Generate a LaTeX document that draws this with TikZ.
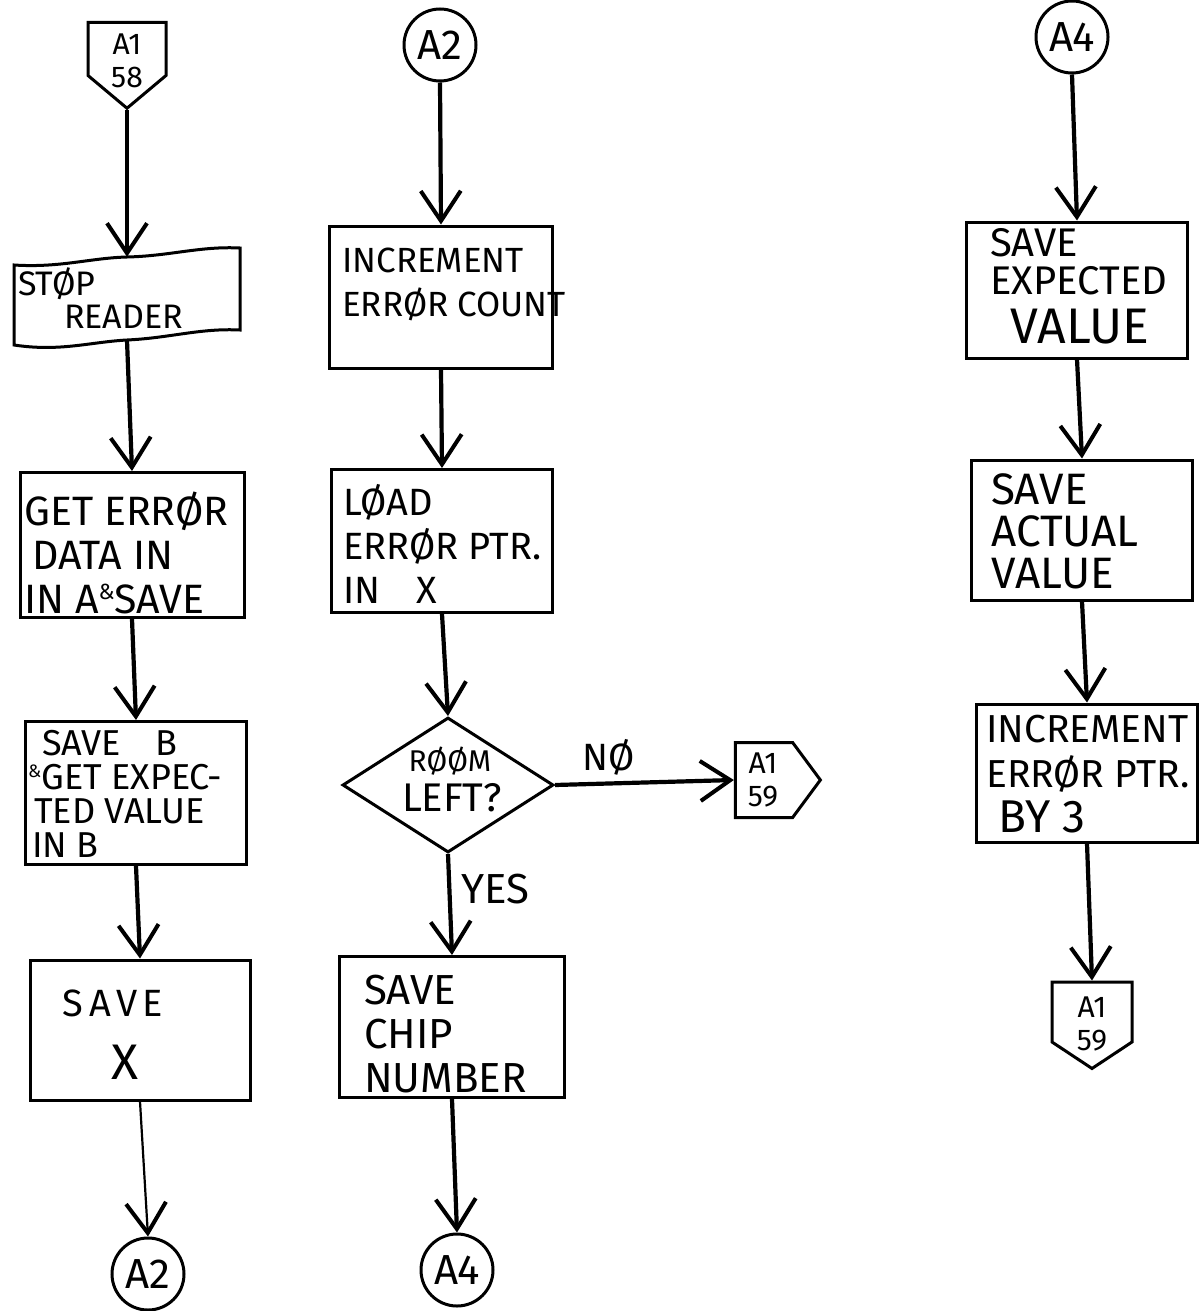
\documentclass[tikz,border=0pt]{standalone}
\usepackage{fontspec}
\setmainfont{Fira Sans}
\usetikzlibrary{arrows.meta,shapes.geometric,shapes.symbols}
\begin{document}
\begin{tikzpicture}[x=1pt,y=-1pt,
  box/.style={draw, line width=3pt, inner sep=0pt},
  circ/.style={draw, circle, line width=3pt, minimum size=72pt, inner sep=0pt, font=\fontsize{42}{42}\selectfont},
  offpage/.style={draw, signal, line width=3pt, inner sep=0pt},
  arr/.style={line width=4.2pt, -{Straight Barb[length=30pt,width=40pt,line width=4pt]}},
  txt/.style={inner sep=0pt, anchor=west, align=left, font=\fontsize{40}{44}\selectfont},
  small/.style={inner sep=0pt, align=center, font=\fontsize{30}{33}\selectfont}]
\useasboundingbox (0,0) rectangle (1201,1311);
\fill[white] (0,0) rectangle (1201,1311);

% ---------- column 1 ----------
\node[offpage, signal to=south, signal pointer angle=100, minimum width=78pt, minimum height=53pt] (o58) at (127,49) {};
\node[small] (o58t) at (127,61) {A1\\58};
\node[minimum width=226pt, minimum height=83pt, inner sep=0pt] (stop) at (127,298.5) {};
\draw[line width=3pt] (14,265) .. controls (60,268) and (90,258) .. (127,257)
  .. controls (170,256) and (200,246) .. (240,248) -- (240,330)
  .. controls (200,328) and (170,338) .. (127,340)
  .. controls (90,342) and (60,352) .. (14,345) -- cycle;
\node[txt, font=\fontsize{34}{33}\selectfont] (stopt) at (18,298) {STØP\\\hspace{46pt}READER};
\node[box, minimum width=224pt, minimum height=145pt] (geterr) at (132,545) {};
\node[txt, font=\fontsize{41}{44}\selectfont] (gettxt) at (24,553) {GET ERRØR\\\hspace{8pt}DATA IN\\IN A{\fontsize{22}{22}\selectfont\raisebox{14pt}{\&}}SAVE};
\node[box, minimum width=221pt, minimum height=143pt] (saveb) at (136,793) {};
\node[txt, font=\fontsize{36}{34}\selectfont] (savebt) at (28,794) {\hspace{14pt}SAVE\hspace{34pt}B\\{\fontsize{18}{18}\selectfont\raisebox{12pt}{\&}}GET EXPEC-\\\hspace{6pt}TED VALUE\\\hspace{4pt}IN B};
\node[box, minimum width=220pt, minimum height=140pt] (savex) at (140,1030) {};
\node[inner sep=0pt, font=\fontsize{38}{38}\selectfont\addfontfeature{LetterSpace=15}] (savext) at (113,1003) {SAVE};
\node[inner sep=0pt, font=\fontsize{50}{50}\selectfont] (xt) at (125,1062) {X};
\node[circ] (c2bot) at (148,1274) {A2};

\draw[arr] (o58.south) -- (stop.north);
\draw[arr] (stop.south) -- (geterr.north);
\draw[arr] (geterr.south) -- (saveb.north);
\draw[arr] (saveb.south) -- (savex.north);
\draw[arr, line width=2.2pt] (savex.south) -- (c2bot.north);

% ---------- column 2 ----------
\node[circ] (c2top) at (440,45) {A2};
\node[box, minimum width=223pt, minimum height=142pt] (incr) at (441,297) {};
\node[txt, font=\fontsize{35}{44}\selectfont] (incrt) at (342,284) {INCREMENT\\ERRØR COUNT};
\node[box, minimum width=221pt, minimum height=143pt] (load) at (442,541) {};
\node[txt, font=\fontsize{38}{44}\selectfont] (loadt) at (343,544) {LØAD\\ERRØR PTR.\\IN\hspace{36pt}X};
\node[draw, diamond, line width=3pt, minimum width=211pt, minimum height=135pt, inner sep=0pt] (dia) at (448,785) {};
\node[inner sep=0pt, font=\fontsize{30}{30}\selectfont] (diat1) at (450,761) {RØØM};
\node[inner sep=0pt, font=\fontsize{40}{40}\selectfont] (diat2) at (452,798) {LEFT?};
\node[offpage, signal to=east, signal pointer angle=107, minimum width=85pt, minimum height=75pt] (o59r) at (764,780) {};
\node[small] (o59rt) at (763,780) {A1\\59};
\node[box, minimum width=225pt, minimum height=141pt] (chip) at (452,1027) {};
\node[txt, font=\fontsize{42}{44}\selectfont] (chipt) at (364,1034) {SAVE\\CHIP\\NUMBER};
\node[circ] (c4bot) at (457,1270) {A4};

\draw[arr] (c2top.south) -- (incr.north);
\draw[arr] (incr.south) -- (load.north);
\draw[arr] (load.south) -- (dia.north);
\draw[arr] (dia.east) -- node[above=6pt, font=\fontsize{38}{38}\selectfont, inner sep=0pt, pos=0.3] (no) {NØ} (o59r.west);
\draw[arr] (dia.south) -- node[right=10pt, font=\fontsize{42}{42}\selectfont, inner sep=0pt, pos=0.35] (yes) {YES} (chip.north);
\draw[arr] (chip.south) -- (c4bot.north);

% ---------- column 3 ----------
\node[circ] (c4top) at (1072,37) {A4};
\node[box, minimum width=221pt, minimum height=136pt] (expv) at (1077,290) {};
\node[txt, font=\fontsize{40}{38}\selectfont] (expvt) at (990,262) {SAVE\\EXPECTED};
\node[inner sep=0pt, font=\fontsize{50}{50}\selectfont] (valt) at (1080,327) {VALUE};
\node[box, minimum width=221pt, minimum height=140pt] (actv) at (1082,530) {};
\node[txt, font=\fontsize{44}{42}\selectfont] (actvt) at (991,531) {SAVE\\ACTUAL\\VALUE};
\node[box, minimum width=221pt, minimum height=138pt] (incptr) at (1087,773) {};
\node[txt, font=\fontsize{39}{45}\selectfont] (incptrt) at (986,774) {INCREMENT\\ERRØR PTR.\\\hspace{12pt}{\fontsize{46}{46}\selectfont BY 3}};
\node[offpage, signal to=south, signal pointer angle=113, minimum width=80pt, minimum height=60pt] (o59b) at (1092,1012) {};
\node[small] (o59bt) at (1092,1024) {A1\\59};

\draw[arr] (c4top.south) -- (expv.north);
\draw[arr] (expv.south) -- (actv.north);
\draw[arr] (actv.south) -- (incptr.north);
\draw[arr] (incptr.south) -- (o59b.north);
\end{tikzpicture}
\end{document}
